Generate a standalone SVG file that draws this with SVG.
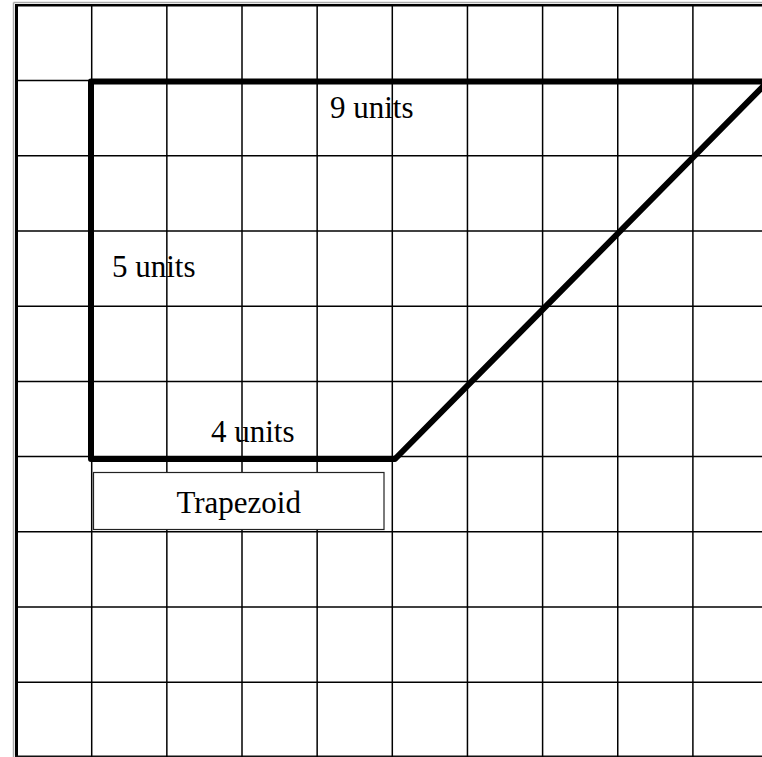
<svg xmlns="http://www.w3.org/2000/svg" width="762" height="757" viewBox="0 0 762 757">
<style>
.grid line { stroke:#000; stroke-width:1.5; }
.lbl { font-family:"Liberation Serif","Times New Roman",serif; font-size:31px; fill:#000; }
</style>
<rect x="0" y="0" width="762" height="757" fill="#fff"/>
<g id="frame">
<line x1="13.5" y1="2.5" x2="13.5" y2="757" stroke="#aaa" stroke-width="1.5"/>
<line x1="13.5" y1="2.5" x2="762" y2="2.5" stroke="#aaa" stroke-width="1.5"/>
<line x1="16.5" y1="4" x2="16.5" y2="757" stroke="#000" stroke-width="3"/>
<line x1="15" y1="5.3" x2="762" y2="5.3" stroke="#000" stroke-width="2.6"/>
<line x1="15" y1="756.2" x2="762" y2="756.2" stroke="#111" stroke-width="1.6"/>
</g>
<g id="grid" class="grid">
<line x1="91.7" y1="5" x2="91.7" y2="757"/>
<line x1="166.85" y1="5" x2="166.85" y2="757"/>
<line x1="242" y1="5" x2="242" y2="757"/>
<line x1="317.15" y1="5" x2="317.15" y2="757"/>
<line x1="392.3" y1="5" x2="392.3" y2="757"/>
<line x1="467.45" y1="5" x2="467.45" y2="757"/>
<line x1="542.6" y1="5" x2="542.6" y2="757"/>
<line x1="617.75" y1="5" x2="617.75" y2="757"/>
<line x1="692.9" y1="5" x2="692.9" y2="757"/>
<line x1="16" y1="80.6" x2="762" y2="80.6"/>
<line x1="16" y1="155.8" x2="762" y2="155.8"/>
<line x1="16" y1="231" x2="762" y2="231"/>
<line x1="16" y1="306.2" x2="762" y2="306.2"/>
<line x1="16" y1="381.4" x2="762" y2="381.4"/>
<line x1="16" y1="456.6" x2="762" y2="456.6"/>
<line x1="16" y1="531.8" x2="762" y2="531.8"/>
<line x1="16" y1="607" x2="762" y2="607"/>
<line x1="16" y1="682.2" x2="762" y2="682.2"/>
</g>
<g id="trapezoid">
<polygon points="91,81.5 768,81.5 395,459 91,459" fill="none" stroke="#000" stroke-width="6" stroke-linejoin="round"/>
</g>
<g id="labels">
<text class="lbl" x="330" y="118">9 units</text>
<text class="lbl" x="112" y="277">5 units</text>
<text class="lbl" x="211" y="442">4 units</text>
</g>
<g id="title-box">
<rect x="93.5" y="472.5" width="290.5" height="57" fill="#fff" stroke="#222" stroke-width="1.2"/>
<text class="lbl" x="238.7" y="512.7" text-anchor="middle">Trapezoid</text>
</g>
</svg>
